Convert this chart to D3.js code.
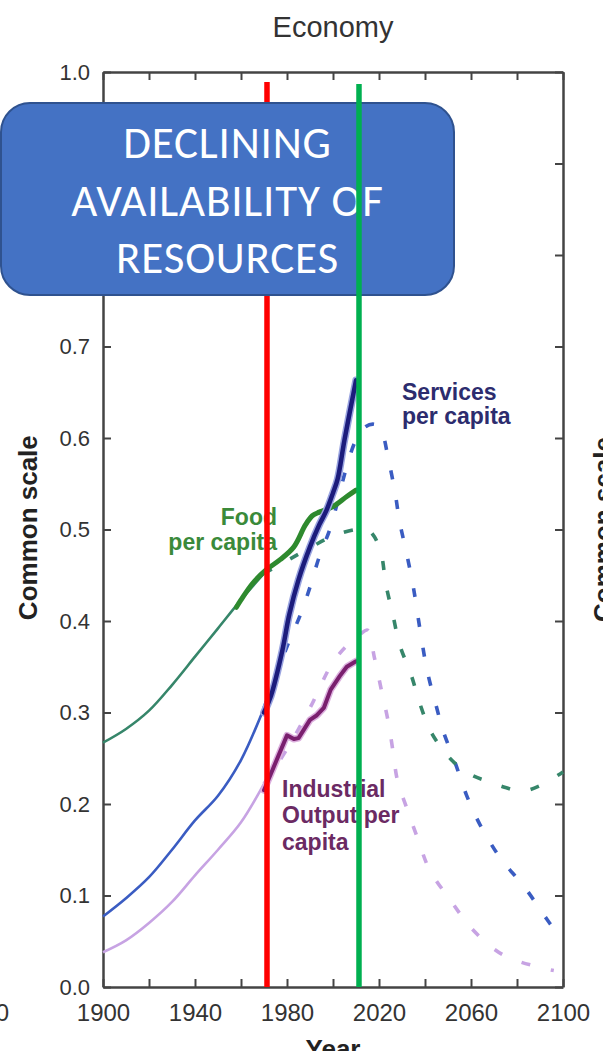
<!DOCTYPE html>
<html>
<head>
<meta charset="utf-8">
<script src="https://cdn.jsdelivr.net/npm/d3@7"></script>
<style>
  html, body { margin: 0; padding: 0; background: #fff; overflow: hidden; }
  svg { display: block; }
</style>
</head>
<body>
<svg id="chart" width="603" height="1051"></svg>
<script>
// ---- Economy panel: World3 standard run vs. observed data ----

// Food per capita, model run
const foodModelYears  = [1900, 1910, 1920, 1930, 1940, 1950, 1960, 1970, 1980, 1990, 2000, 2010, 2015, 2018, 2021, 2023, 2026, 2029, 2034, 2038, 2043, 2052, 2060, 2067, 2075, 2082, 2090, 2100];
const foodModelValues = [0.267, 0.282, 0.302, 0.330, 0.361, 0.392, 0.423, 0.452, 0.466, 0.480, 0.493, 0.500, 0.500, 0.492, 0.473, 0.440, 0.407, 0.374, 0.341, 0.308, 0.277, 0.247, 0.232, 0.225, 0.218, 0.214, 0.220, 0.235];

// Services per capita, model run
const servicesModelYears  = [1900, 1910, 1920, 1930, 1940, 1950, 1960, 1970, 1975, 1980, 1986, 1990, 1994, 1999, 2006, 2010, 2014, 2018, 2021, 2024, 2027, 2029, 2032, 2035, 2038, 2041, 2045, 2048, 2053, 2058, 2064, 2073, 2083, 2093, 2097];
const servicesModelValues = [0.077, 0.097, 0.120, 0.150, 0.182, 0.209, 0.248, 0.305, 0.339, 0.372, 0.408, 0.437, 0.470, 0.503, 0.569, 0.598, 0.612, 0.615, 0.608, 0.578, 0.540, 0.508, 0.474, 0.436, 0.388, 0.345, 0.306, 0.279, 0.246, 0.210, 0.177, 0.140, 0.110, 0.074, 0.060];

// Industrial output per capita, model run
const industrialModelYears  = [1900, 1910, 1920, 1930, 1940, 1950, 1960, 1970, 1980, 1990, 2000, 2008, 2012, 2015, 2018, 2021, 2024, 2026, 2028, 2032, 2037, 2042, 2051, 2061, 2074, 2089, 2096];
const industrialModelValues = [0.038, 0.051, 0.070, 0.093, 0.122, 0.150, 0.180, 0.222, 0.260, 0.305, 0.355, 0.378, 0.386, 0.390, 0.360, 0.325, 0.290, 0.259, 0.226, 0.196, 0.161, 0.128, 0.095, 0.062, 0.035, 0.022, 0.018];

// Year from which the model run is drawn dashed
const modelDashFrom = 1970;

// Observed data
const foodDataYears  = [1958, 1960, 1965, 1971, 1977, 1983, 1988, 1991, 1994, 2000, 2006, 2010];
const foodDataValues = [0.415, 0.423, 0.441, 0.456, 0.467, 0.481, 0.505, 0.515, 0.519, 0.525, 0.536, 0.543];

const servicesDataYears  = [1970, 1973, 1978, 1981, 1985, 1990, 1994, 1997, 2000, 2002, 2005, 2010];
const servicesDataValues = [0.300, 0.318, 0.368, 0.407, 0.445, 0.481, 0.505, 0.520, 0.540, 0.555, 0.598, 0.663];

const industrialDataYears  = [1970, 1975, 1980, 1983, 1985, 1990, 1993, 1996, 1999, 2003, 2006, 2010];
const industrialDataValues = [0.215, 0.245, 0.275, 0.271, 0.272, 0.292, 0.297, 0.305, 0.325, 0.340, 0.350, 0.356];

// Axes
const xTickValues = [1900, 1920, 1940, 1960, 1980, 2000, 2020, 2040, 2060, 2080, 2100];
const xTickLabels = ["1900", "1940", "1980", "2020", "2060", "2100"];
const yTickValues = [0.0, 0.1, 0.2, 0.3, 0.4, 0.5, 0.6, 0.7, 0.8, 0.9, 1.0];

// Annotations
const redMarkerYear = 1971.3;
const greenMarkerYear = 2011.3;
const redMarkerTop = 0.989;
const greenMarkerTop = 0.987;
const calloutLines = ["DECLINING", "AVAILABILITY OF", "RESOURCES"];

const zip = (xs, ys) => xs.map((x, i) => [x, ys[i]]);

const svg = d3.select("#chart");
const plot = { left: 103, right: 563, top: 72, bottom: 987 };

const x = d3.scaleLinear().domain([1900, 2100]).range([plot.left, plot.right]);
const y = d3.scaleLinear().domain([0, 1]).range([plot.bottom, plot.top]);

const axisColor = "#444";
const textColor = "#333";
const sans = "Liberation Sans, Arial, sans-serif";

// Title
svg.append("text")
  .attr("x", 333).attr("y", 37)
  .attr("text-anchor", "middle")
  .attr("font-family", sans)
  .attr("font-size", 29)
  .attr("fill", textColor)
  .text("Economy");

// Axes
function styleAxis(size) {
  return g => {
    g.select(".domain").attr("stroke", axisColor).attr("stroke-width", 2.5);
    g.selectAll(".tick line").attr("stroke", axisColor).attr("stroke-width", 2);
    g.selectAll(".tick text")
      .attr("font-family", sans)
      .attr("font-size", size)
      .attr("fill", textColor);
  };
}

svg.append("g")
  .attr("transform", `translate(0,${plot.bottom})`)
  .call(d3.axisBottom(x).tickValues(xTickValues).tickSize(-8).tickSizeOuter(0).tickPadding(17)
    .tickFormat(d => xTickLabels.includes(String(d)) ? String(d) : ""))
  .call(styleAxis(24));

svg.append("g")
  .attr("transform", `translate(0,${plot.top})`)
  .call(d3.axisTop(x).tickValues(xTickValues).tickSize(-8).tickSizeOuter(0).tickFormat(""))
  .call(styleAxis(22));

svg.append("g")
  .attr("transform", `translate(${plot.left},0)`)
  .call(d3.axisLeft(y).tickValues(yTickValues).tickSize(-8).tickSizeOuter(0).tickPadding(13)
    .tickFormat(d3.format(".1f")))
  .call(styleAxis(22));

svg.append("g")
  .attr("transform", `translate(${plot.right},0)`)
  .call(d3.axisRight(y).tickValues(yTickValues).tickSize(-8).tickSizeOuter(0).tickFormat(""))
  .call(styleAxis(22));

// Axis titles
function axisTitle(transform, text) {
  svg.append("text")
    .attr("transform", transform)
    .attr("text-anchor", "middle")
    .attr("font-family", sans)
    .attr("font-weight", "bold")
    .attr("font-size", 26)
    .attr("fill", "#222")
    .text(text);
}
axisTitle(`translate(37,${y(0.502)}) rotate(-90)`, "Common scale");
axisTitle(`translate(612,${y(0.500)}) rotate(-90)`, "Common scale");
axisTitle(`translate(333,1058)`, "Year");

// Neighbouring panel's last year label, clipped by the edge
svg.append("text")
  .attr("x", 9).attr("y", 1021)
  .attr("text-anchor", "end")
  .attr("font-family", sans)
  .attr("font-size", 24)
  .attr("fill", textColor)
  .text("2100");

// Lines
const smooth = d3.line().x(d => x(d[0])).y(d => y(d[1])).curve(d3.curveCatmullRom.alpha(0.5));
const rough = d3.line().x(d => x(d[0])).y(d => y(d[1])).curve(d3.curveLinear);

function drawModel(years, values, color) {
  const pts = zip(years, values);
  const solid = pts.filter(d => d[0] <= modelDashFrom);
  const dashed = pts.filter(d => d[0] >= modelDashFrom);
  svg.append("path").datum(solid)
    .attr("d", smooth).attr("fill", "none")
    .attr("stroke", color).attr("stroke-width", 2.6)
    .attr("stroke-linejoin", "round");
  svg.append("path").datum(dashed)
    .attr("d", smooth).attr("fill", "none")
    .attr("stroke", color).attr("stroke-width", 3.6)
    .attr("stroke-dasharray", "9,21");
}

drawModel(industrialModelYears, industrialModelValues, "#c7a3e3");
drawModel(servicesModelYears, servicesModelValues, "#3a5cc2");
drawModel(foodModelYears, foodModelValues, "#36866a");

function drawData(years, values, color, width, halo, curve) {
  const pts = zip(years, values);
  if (halo) {
    svg.append("path").datum(pts)
      .attr("d", curve).attr("fill", "none")
      .attr("stroke", halo).attr("stroke-width", width + 3)
      .attr("stroke-linejoin", "round").attr("stroke-linecap", "round");
  }
  svg.append("path").datum(pts)
    .attr("d", curve).attr("fill", "none")
    .attr("stroke", color).attr("stroke-width", width)
    .attr("stroke-linejoin", "round").attr("stroke-linecap", "round");
}

drawData(foodDataYears, foodDataValues, "#2e8a2e", 5, null, smooth);
drawData(industrialDataYears, industrialDataValues, "#7a1f6e", 4, "#dcb0de", rough);
drawData(servicesDataYears, servicesDataValues, "#1c1c7c", 4.5, "#9aa4e0", smooth);

// Series labels
function label(lines, xPos, baselines, anchor, color) {
  const t = svg.append("text")
    .attr("text-anchor", anchor)
    .attr("font-family", sans)
    .attr("font-weight", "bold")
    .attr("font-size", 23)
    .attr("fill", color);
  lines.forEach((s, i) => t.append("tspan").attr("x", xPos).attr("y", baselines[i]).text(s));
}

label(["Food", "per capita"], 277, [525, 550], "end", "#3a8a3a");
label(["Services", "per capita"], 402, [400, 424], "start", "#2c2c6e");
label(["Industrial", "Output per", "capita"], 282, [797, 823, 850], "start", "#6b2a63");

// Red marker (behind the callout)
svg.append("line")
  .attr("x1", x(redMarkerYear)).attr("x2", x(redMarkerYear))
  .attr("y1", y(redMarkerTop)).attr("y2", y(0))
  .attr("stroke", "#ff0000").attr("stroke-width", 5.5);

// Callout box
svg.append("rect")
  .attr("x", 1).attr("y", 103).attr("width", 453).attr("height", 192)
  .attr("rx", 29).attr("ry", 29)
  .attr("fill", "#4472c4").attr("stroke", "#2f528f").attr("stroke-width", 2);

const callout = svg.append("text")
  .attr("text-anchor", "middle")
  .attr("font-family", "Carlito, Lato, sans-serif")
  .attr("font-size", 45)
  .attr("letter-spacing", 0.8)
  .attr("fill", "#ffffff");
calloutLines.forEach((s, i) => callout.append("tspan").attr("x", 227.5).attr("y", 158 + i * 57.5).text(s));

// Green marker (in front of the callout)
svg.append("line")
  .attr("x1", x(greenMarkerYear)).attr("x2", x(greenMarkerYear))
  .attr("y1", y(greenMarkerTop)).attr("y2", y(0))
  .attr("stroke", "#00b050").attr("stroke-width", 5.5);
</script>
</body>
</html>
